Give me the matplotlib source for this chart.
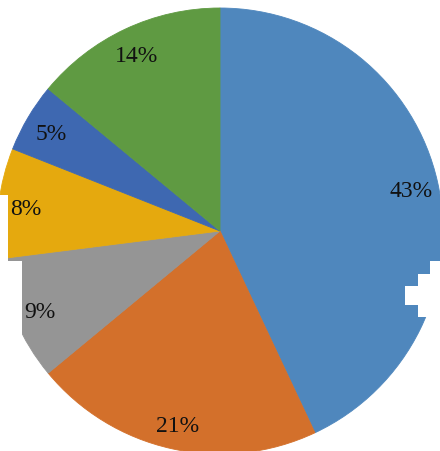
import matplotlib
matplotlib.use('Agg')
import matplotlib.pyplot as plt
from matplotlib.patches import Rectangle

# slice values (percent), clockwise from 12 o'clock
values = [43, 21, 9, 8, 5, 14]
colors = ['#4f87bd', '#d3702b', '#959595', '#e5a90e', '#3e68b1', '#5f9a42']

W, H = 440, 452
fig = plt.figure(figsize=(W / 100, H / 100), dpi=100)

# pie centre (220, 232) from top-left, radius ~223 px
cx, cy, r = 220, H - 232, 223
ax = fig.add_axes([(cx - r) / W, (cy - r) / H, 2 * r / W, 2 * r / H])

wedges, texts, autotexts = ax.pie(
    values, colors=colors, startangle=90, counterclock=False,
    autopct='%d%%', pctdistance=0.88, radius=1.0,
    wedgeprops=dict(linewidth=0.6),
    textprops=dict(family='Liberation Serif', fontsize=17, color='#111111'))
for w in wedges:
    w.set_edgecolor(w.get_facecolor())
    w.set_clip_on(False)
for t in autotexts:
    t.set_zorder(5)
    t.set_va('center_baseline')
ax.set_xlim(-1, 1)
ax.set_ylim(-1, 1)
ax.set_aspect('equal')
ax.axis('off')

# white cut-outs seen at the edges of the picture (x, y-top, w, h in px)
masks = [(0, 262, 22, 95), (0, 196, 8, 66),
         (430, 262, 10, 80), (418, 275, 22, 43), (405, 287, 35, 19)]
for x, y, w, h in masks:
    ax.add_patch(Rectangle((x / W, 1 - (y + h) / H), w / W, h / H,
                           transform=fig.transFigure, facecolor='white',
                           edgecolor='none', zorder=3, clip_on=False))

fig.savefig('out.png', dpi=100)
